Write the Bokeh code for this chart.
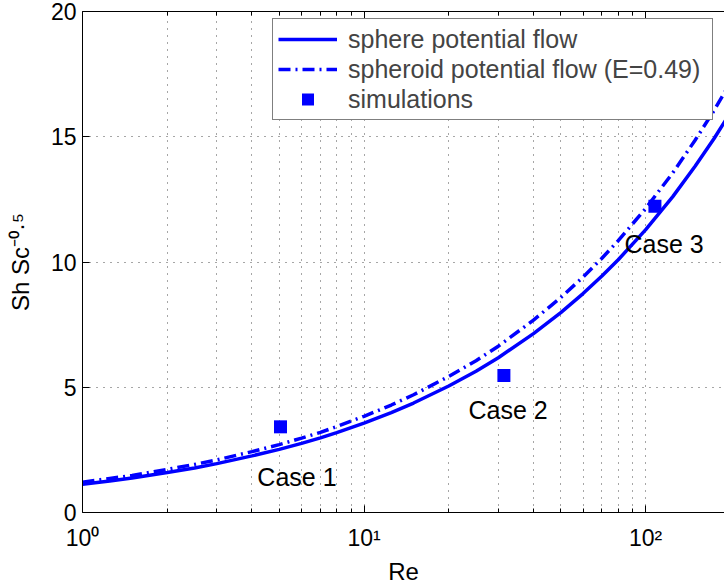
from bokeh.plotting import figure
from bokeh.models import FixedTicker, LogAxis, Legend, LegendItem, ColumnDataSource
from bokeh.embed import file_html
from bokeh.resources import INLINE
from bokeh.core.properties import value

# ---- data ----
re_vals = [1, 1.25, 1.5, 2, 2.5, 3, 4, 5, 6, 7, 8, 10, 12.5, 15, 20, 25, 30, 40, 50,
           60, 70, 80, 100, 125, 150, 175, 200]
sphere = [1.13, 1.26, 1.38, 1.60, 1.78, 1.95, 2.26, 2.52, 2.76, 2.98, 3.19, 3.57, 3.99,
          4.37, 5.05, 5.64, 6.18, 7.14, 7.98, 8.74, 9.44, 10.09, 11.28, 12.61, 13.82,
          14.92, 15.96]
spheroid = [1.21, 1.36, 1.48, 1.72, 1.92, 2.10, 2.43, 2.71, 2.97, 3.20, 3.43, 3.84, 4.29,
            4.70, 5.43, 6.06, 6.64, 7.68, 8.58, 9.40, 10.15, 10.85, 12.13, 13.56, 14.86,
            16.04, 17.16]
sim_re = [5.05, 31.4, 108]
sim_sh = [3.42, 5.47, 12.23]
case_labels = ["Case 1", "Case 2", "Case 3"]
case_label_re = [4.18, 23.5, 84.2]
case_label_sh = [1.41, 4.10, 10.71]
x_ticks = [1, 10, 100]
x_minor = [2, 3, 4, 5, 6, 7, 8, 9, 20, 30, 40, 50, 60, 70, 80, 90, 200]
x_tick_labels = ["10\u2070", "10\u00b9", "10\u00b2"]
y_ticks = [0, 5, 10, 15, 20]
legend_labels = ["sphere potential flow", "spheroid potential flow (E=0.49)", "simulations"]
x_label = "Re"
y_label = "Sh Sc\u207b\u2070\u00b7\u2075"

FONT = "Liberation Sans"
BLUE = "#0000ff"

p = figure(width=724, height=587, x_axis_type="log", x_range=(1, 190.8), y_range=(0, 20),
           output_backend="svg", toolbar_location=None,
           min_border_left=82, min_border_right=0, min_border_top=11, min_border_bottom=74)
p.outline_line_color = None
p.background_fill_color = "white"
p.border_fill_color = "white"

ticker = FixedTicker(ticks=x_ticks, minor_ticks=x_minor)
p.xaxis.ticker = ticker
p.xaxis.major_label_overrides = {t: l for t, l in zip(x_ticks, x_tick_labels)}
p.yaxis.ticker = FixedTicker(ticks=y_ticks, minor_ticks=[])

for ax in [p.xaxis[0], p.yaxis[0]]:
    ax.major_tick_in = 7
    ax.major_tick_out = 0
    ax.minor_tick_in = 4
    ax.minor_tick_out = 0
    ax.axis_line_color = "black"
    ax.major_tick_line_color = "black"
    ax.minor_tick_line_color = "black"
    ax.major_label_text_font = FONT
    ax.major_label_text_font_size = "23px"
    ax.major_label_text_color = "black"
    ax.axis_label_text_font = FONT
    ax.axis_label_text_font_size = "24px"
    ax.axis_label_text_font_style = "normal"
    ax.axis_label_text_color = "black"
p.xaxis.major_label_standoff = 12
p.yaxis.major_label_standoff = 6
p.xaxis.axis_label = x_label
p.yaxis.axis_label = y_label
p.xaxis.axis_label_standoff = 4
p.yaxis.axis_label_standoff = 14

top = LogAxis(ticker=ticker, major_label_text_font_size="2px", major_label_text_alpha=0,
              major_label_standoff=0,
              major_tick_in=7, major_tick_out=0, minor_tick_in=4, minor_tick_out=0,
              axis_line_color="black")
p.add_layout(top, "above")

p.xgrid.ticker = ticker
p.xgrid.grid_line_color = "black"
p.xgrid.grid_line_dash = "1 6"
p.xgrid.grid_line_alpha = 0.7
p.xgrid.minor_grid_line_color = "black"
p.xgrid.minor_grid_line_dash = "1 6"
p.xgrid.minor_grid_line_alpha = 0.7
p.ygrid.grid_line_color = "black"
p.ygrid.grid_line_dash = "1 6"
p.ygrid.grid_line_alpha = 0.7

r1 = p.line(re_vals, sphere, line_color=BLUE, line_width=3.5)
r2 = p.line(re_vals, spheroid, line_color=BLUE, line_width=3.5, line_dash="12 5 2 5")
r3 = p.scatter(sim_re, sim_sh, marker="square", size=13, fill_color=BLUE, line_color=None)

src = ColumnDataSource(dict(x=case_label_re, y=case_label_sh, t=case_labels))
p.text(x="x", y="y", text="t", source=src, text_font=value(FONT), text_font_size="25px",
       text_color="black", text_align="left", text_baseline="alphabetic")

legend = Legend(items=[LegendItem(label=legend_labels[0], renderers=[r1]),
                       LegendItem(label=legend_labels[1], renderers=[r2]),
                       LegendItem(label=legend_labels[2], renderers=[r3])],
                location=(190, 392))
legend.border_line_color = "black"
legend.border_line_width = 1
legend.background_fill_color = "white"
legend.background_fill_alpha = 1
legend.label_text_font = FONT
legend.label_text_font_size = "25px"
legend.glyph_width = 59
legend.glyph_height = 30
legend.label_height = 30
legend.label_width = 359
legend.spacing = 0
legend.padding = 5
legend.margin = 0
legend.label_standoff = 11
p.add_layout(legend)

open("out.html", "w").write(file_html(p, INLINE))
